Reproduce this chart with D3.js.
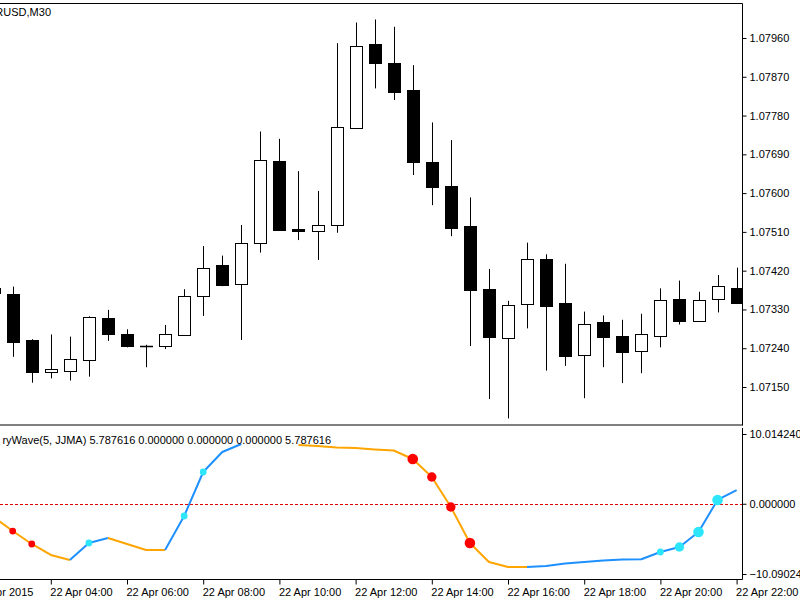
<!DOCTYPE html>
<html>
<head>
<meta charset="utf-8">
<script src="https://cdn.jsdelivr.net/npm/d3@7"></script>
<style>
  body { margin: 0; background: #fff; }
  svg { display: block; }
  text { font-family: "Liberation Sans", Arial, sans-serif; font-size: 11px; fill: #000; }
</style>
</head>
<body>
<svg id="chart" width="800" height="600"></svg>
<script>
// bar times, 22 Apr 2015, M30
const barTimes = ["02:30", "03:00", "03:30", "04:00", "04:30", "05:00", "05:30", "06:00", "06:30", "07:00",
  "07:30", "08:00", "08:30", "09:00", "09:30", "10:00", "10:30", "11:00", "11:30", "12:00",
  "12:30", "13:00", "13:30", "14:00", "14:30", "15:00", "15:30", "16:00", "16:30", "17:00",
  "17:30", "18:00", "18:30", "19:00", "19:30", "20:00", "20:30", "21:00", "21:30", "22:00"]

const openPx = [1.07368, 1.07366, 1.07258, 1.07185, 1.07187, 1.07213, 1.07311, 1.07272, 1.07246, 1.07245,
  1.07271, 1.07362, 1.07432, 1.07388, 1.07484, 1.07675, 1.07516, 1.07512, 1.07525, 1.07750,
  1.07945, 1.07901, 1.07839, 1.07673, 1.07617, 1.07524, 1.07377, 1.07263, 1.07343, 1.07446,
  1.07344, 1.07224, 1.07302, 1.07268, 1.07234, 1.07268, 1.07354, 1.07304, 1.07354, 1.07379]
const highPx = [1.07387, 1.07383, 1.07261, 1.07272, 1.07267, 1.07314, 1.07329, 1.07284, 1.07248, 1.07294,
  1.07377, 1.07477, 1.07455, 1.07526, 1.07743, 1.07726, 1.07651, 1.07605, 1.07948, 1.07996,
  1.08003, 1.07986, 1.07897, 1.07764, 1.07723, 1.07590, 1.07424, 1.07350, 1.07485, 1.07458,
  1.07436, 1.07325, 1.07316, 1.07306, 1.07320, 1.07379, 1.07397, 1.07371, 1.07410, 1.07427]
const lowPx = [1.07352, 1.07220, 1.07160, 1.07170, 1.07165, 1.07174, 1.07257, 1.07242, 1.07196, 1.07238,
  1.07270, 1.07315, 1.07384, 1.07259, 1.07462, 1.07513, 1.07491, 1.07445, 1.07508, 1.07749,
  1.07843, 1.07816, 1.07642, 1.07572, 1.07500, 1.07245, 1.07122, 1.07077, 1.07286, 1.07188,
  1.07199, 1.07124, 1.07196, 1.07159, 1.07182, 1.07242, 1.07295, 1.07302, 1.07323, 1.07343]
const closePx = [1.07380, 1.07254, 1.07185, 1.07191, 1.07214, 1.07313, 1.07273, 1.07245, 1.07246, 1.07274,
  1.07362, 1.07426, 1.07387, 1.07484, 1.07678, 1.07514, 1.07512, 1.07526, 1.07753, 1.07941,
  1.07901, 1.07835, 1.07672, 1.07614, 1.07519, 1.07375, 1.07265, 1.07340, 1.07446, 1.07338,
  1.07223, 1.07296, 1.07267, 1.07231, 1.07274, 1.07351, 1.07304, 1.07351, 1.07384, 1.07346]

// indicator values (null = not drawn)
const waveValues = [-1.91, -3.92, -5.78, -7.36, -8.08, -5.64, -4.92, -5.78, -6.64, -6.64,
  -1.76, 4.56, 7.43, 8.58, null, null, 8.43, 8.29, 8.07, 8.00,
  7.79, 7.64, 6.42, 3.84, -0.47, -5.64, -8.37, -9.09, -9.09, -8.94,
  -8.58, -8.37, -8.15, -8.01, -7.98, -6.93, -6.21, -4.06, 0.54, 1.97]
// 0 = falling (orange), 1 = rising (blue)
const waveTrend = [0, 0, 0, 0, 0, 1, 1, 0, 0, 0,
  1, 1, 1, 1, 0, 0, 0, 0, 0, 0,
  0, 0, 0, 0, 0, 0, 0, 0, 0, 1,
  1, 1, 1, 1, 1, 1, 1, 1, 1, 1]
// signal strength of the dots, 0 = none
const dnSignal = [0, 1, 1, 0, 0, 0, 0, 0, 0, 0,
  0, 0, 0, 0, 0, 0, 0, 0, 0, 0,
  0, 0, 3, 2, 2, 3, 0, 0, 0, 0,
  0, 0, 0, 0, 0, 0, 0, 0, 0, 0]
const upSignal = [0, 0, 0, 0, 0, 1, 0, 0, 0, 0,
  1, 1, 0, 0, 0, 0, 0, 0, 0, 0,
  0, 0, 0, 0, 0, 0, 0, 0, 0, 0,
  0, 0, 0, 0, 0, 1, 2, 3, 3, 0]

const priceTicks = [1.0715, 1.0724, 1.0733, 1.0742, 1.0751, 1.0760, 1.0769, 1.0778, 1.0787, 1.0796]
const waveTicks = [10.014240, 0, -10.090242]
const timeTicks = ["02:00", "04:00", "06:00", "08:00", "10:00", "12:00", "14:00", "16:00", "18:00", "20:00", "22:00"]
const timeLabels = ["22 Apr 2015", "22 Apr 04:00", "22 Apr 06:00", "22 Apr 08:00", "22 Apr 10:00", "22 Apr 12:00",
  "22 Apr 14:00", "22 Apr 16:00", "22 Apr 18:00", "22 Apr 20:00", "22 Apr 22:00"]

const symbolTitle = "EURUSD,M30"
const waveLabel = "ryWave(5, JJMA) 5.787616 0.000000 0.000000 0.000000 5.787616"

// layout
const axisX = 742.5
const main = {top: 3.5, bottom: 424.5}
const sub = {top: 428, bottom: 579.5}

const parseTime = d3.timeParse("%Y-%m-%d %H:%M")
const day = "2015-04-22 "

const bars = barTimes.map((t, i) => ({
  t: parseTime(day + t), o: openPx[i], h: highPx[i], l: lowPx[i], c: closePx[i],
  w: waveValues[i], trend: waveTrend[i], dn: dnSignal[i], up: upSignal[i]
}))

const x = d3.scaleTime()
  .domain([parseTime(day + "03:00"), parseTime(day + "22:00")])
  .range([12.7, 736.6])

const yPrice = d3.scaleLinear().domain([1.0715, 1.0796]).range([387, 38])
const yWave = d3.scaleLinear().domain([-10.090242, 10.014240]).range([574, 434])
const radius = d3.scaleOrdinal().domain([1, 2, 3]).range([3.4, 4.7, 5.3])

const svg = d3.select("#chart")

// clip areas for the two windows
const defs = svg.append("defs")
defs.append("clipPath").attr("id", "clipMain")
  .append("rect").attr("x", 0).attr("y", main.top).attr("width", axisX).attr("height", main.bottom - main.top)
defs.append("clipPath").attr("id", "clipSub")
  .append("rect").attr("x", 0).attr("y", sub.top).attr("width", axisX).attr("height", sub.bottom - sub.top)

// ---- candles
const candles = svg.append("g").attr("clip-path", "url(#clipMain)")
  .selectAll("g")
  .data(bars)
  .enter().append("g")
  .attr("transform", d => "translate(" + Math.round(x(d.t)) + ",0)")

candles.append("line")
  .attr("x1", 0.5).attr("x2", 0.5)
  .attr("y1", d => yPrice(d.h))
  .attr("y2", d => yPrice(d.l))
  .attr("stroke", "#000")

candles.each(function(d) {
  const g = d3.select(this)
  const top = Math.round(yPrice(Math.max(d.o, d.c)))
  const bot = Math.round(yPrice(Math.min(d.o, d.c)))
  if (bot - top < 1) {
    // doji
    g.append("line")
      .attr("x1", -6).attr("x2", 7)
      .attr("y1", top + 0.5).attr("y2", top + 0.5)
      .attr("stroke", "#000")
      .attr("stroke-width", 1.5)
  } else {
    g.append("rect")
      .attr("x", -5.5)
      .attr("width", 12)
      .attr("y", top + 0.5)
      .attr("height", bot - top)
      .attr("fill", d.c < d.o ? "#000" : "#fff")
      .attr("stroke", "#000")
  }
})

// symbol title, its start is hidden past the left edge
svg.append("text")
  .attr("x", 51)
  .attr("y", 16)
  .attr("text-anchor", "end")
  .text(symbolTitle)

// ---- indicator window
const ind = svg.append("g").attr("clip-path", "url(#clipSub)")

ind.append("line")
  .attr("x1", 0).attr("x2", axisX)
  .attr("y1", Math.round(yWave(0)) + 0.5).attr("y2", Math.round(yWave(0)) + 0.5)
  .attr("stroke", "#e00000")
  .attr("stroke-dasharray", "3,2")

// split the line into runs of the same colour
const runs = []
for (let i = 1; i < bars.length; i++) {
  const a = bars[i - 1], b = bars[i]
  if (a.w === null || b.w === null) continue
  const last = runs[runs.length - 1]
  if (last && last.trend === b.trend && last.pts[last.pts.length - 1] === a) {
    last.pts.push(b)
  } else {
    runs.push({trend: b.trend, pts: [a, b]})
  }
}

const waveLine = d3.line().x(d => x(d.t)).y(d => yWave(d.w))

ind.selectAll("path.wave")
  .data(runs)
  .enter().append("path")
  .attr("class", "wave")
  .attr("d", d => waveLine(d.pts))
  .attr("fill", "none")
  .attr("stroke", d => d.trend ? "#1e90ff" : "#ffa500")
  .attr("stroke-width", 2)
  .attr("stroke-linejoin", "round")

ind.selectAll("circle.dn")
  .data(bars.filter(d => d.dn > 0))
  .enter().append("circle")
  .attr("class", "dn")
  .attr("cx", d => x(d.t))
  .attr("cy", d => yWave(d.w))
  .attr("r", d => radius(d.dn))
  .attr("fill", "#ff0000")

ind.selectAll("circle.up")
  .data(bars.filter(d => d.up > 0))
  .enter().append("circle")
  .attr("class", "up")
  .attr("cx", d => x(d.t))
  .attr("cy", d => yWave(d.w))
  .attr("r", d => radius(d.up))
  .attr("fill", "#2ee6fa")

svg.append("text")
  .attr("x", 331)
  .attr("y", 444)
  .attr("text-anchor", "end")
  .text(waveLabel)

// ---- frames
svg.append("line").attr("x1", 0).attr("x2", axisX).attr("y1", main.top).attr("y2", main.top).attr("stroke", "#000")
svg.append("line").attr("x1", 0).attr("x2", axisX).attr("y1", main.bottom + 0.5).attr("y2", main.bottom + 0.5).attr("stroke", "#000")
svg.append("line").attr("x1", axisX).attr("x2", axisX).attr("y1", main.top).attr("y2", main.bottom + 1).attr("stroke", "#000")
svg.append("line").attr("x1", axisX).attr("x2", axisX).attr("y1", sub.top).attr("y2", sub.bottom).attr("stroke", "#000")
svg.append("line").attr("x1", 0).attr("x2", axisX).attr("y1", sub.bottom).attr("y2", sub.bottom).attr("stroke", "#000")

// ---- axes
svg.append("g")
  .attr("class", "priceAxis")
  .attr("transform", "translate(" + axisX + ",0)")
  .call(d3.axisRight(yPrice).tickValues(priceTicks).tickFormat(d3.format(".5f")).tickSize(4).tickPadding(3))

svg.append("g")
  .attr("class", "waveAxis")
  .attr("transform", "translate(" + axisX + ",0)")
  .call(d3.axisRight(yWave).tickValues(waveTicks).tickFormat(d3.format(".6f")).tickSize(4).tickPadding(3))

svg.append("g")
  .attr("class", "timeAxis")
  .attr("transform", "translate(0," + sub.bottom + ")")
  .call(d3.axisBottom(x)
    .tickValues(timeTicks.map(t => parseTime(day + t)))
    .tickFormat((d, i) => timeLabels[i])
    .tickSize(5).tickPadding(4))

svg.selectAll(".domain").remove()
svg.selectAll(".tick text")
  .attr("font-family", null)
  .attr("font-size", null)
svg.selectAll(".timeAxis .tick text").attr("text-anchor", "start").attr("x", -1)
</script>
</body>
</html>
